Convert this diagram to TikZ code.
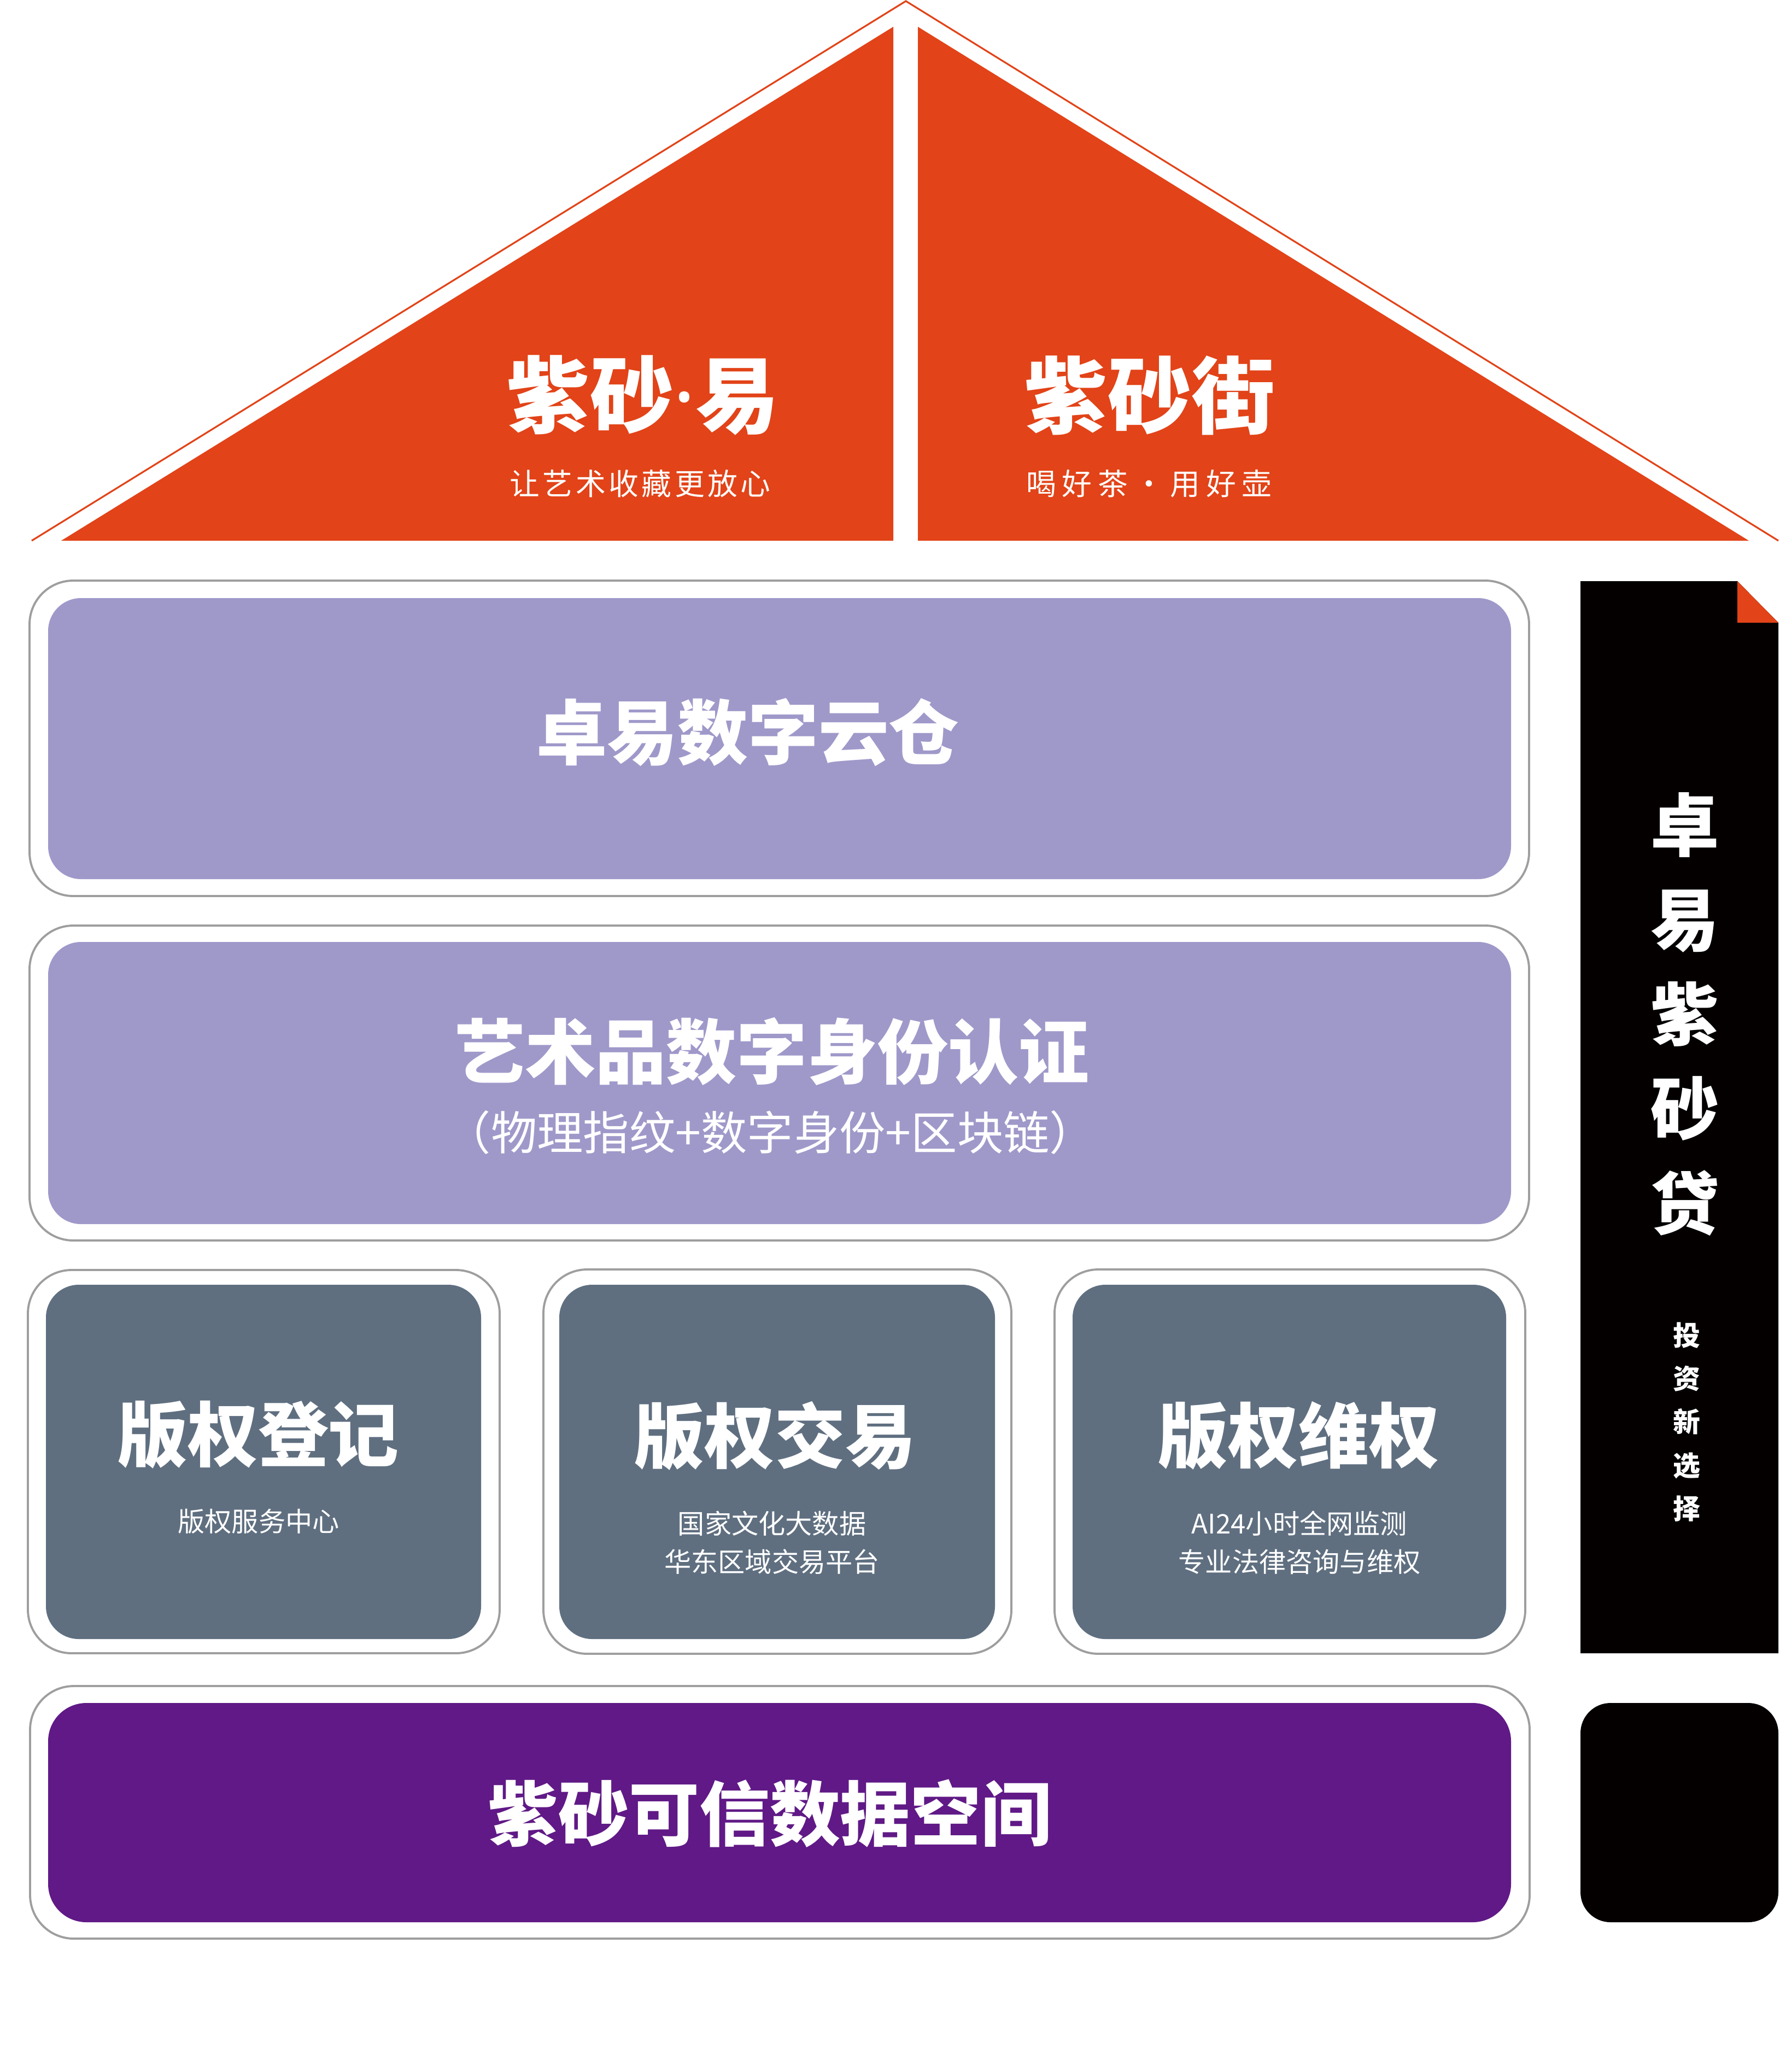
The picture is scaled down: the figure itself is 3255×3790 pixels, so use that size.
\documentclass[tikz,border=0pt]{standalone}
\usepackage{fontspec}
\newfontfamily\cjk{Noto Sans CJK SC}
\newfontfamily\latin{Noto Sans}
\definecolor{roofred}{HTML}{E24318}
\definecolor{lavender}{HTML}{9F99CA}
\definecolor{slate}{HTML}{5F6F80}
\definecolor{grape}{HTML}{601986}
\definecolor{ink}{HTML}{040000}
\definecolor{rim}{HTML}{9E9E9E}
\tikzset{
  rimbox/.style={draw=rim, line width=1.1pt, fill=white, rounded corners=8mm, inner sep=0pt, outer sep=0pt},
  layer/.style={draw=none, rounded corners=6mm, inner sep=0pt, outer sep=0pt},
  title/.style={text=white, inner sep=0pt, font=\cjk\bfseries\fontsize{36.7}{40}\selectfont},
  subtitle/.style={text=white, inner sep=0pt, align=center, font=\cjk\fontsize{14}{19.9}\selectfont},
  rooftitle/.style={text=white, inner sep=0pt, font=\cjk\bfseries\fontsize{43.5}{48}\selectfont},
  roofsub/.style={text=white, inner sep=0pt, font=\cjk\fontsize{15.6}{18}\selectfont},
}

\begin{document}
\begin{tikzpicture}[x=0.1mm, y=-0.1mm]
\useasboundingbox (0,0) rectangle (3255,3790);

% roof
\draw[roofred, line width=0.9pt] (58,989) -- (1657,2) -- (3253,989);
\fill[roofred] (112,989) -- (1634,49) -- (1634,989) -- cycle;
\fill[roofred] (1679,49) -- (3199,989) -- (1679,989) -- cycle;
\node[rooftitle](yi)   at (1176,723) {紫砂{\latin\bfseries ·}易};
\node[roofsub](yisub)  at (1171,885) {\addfontfeatures{LetterSpace=10}让艺术收藏更放心};
\node[rooftitle](jie)  at (2103,723) {紫砂街};
\node[roofsub](jiesub) at (2102,885) {\addfontfeatures{LetterSpace=20}喝好茶・用好壶};

% layers
\node[rimbox, minimum width=274.3mm, minimum height=57.7mm](cloudrim) at (1425.5,1350.5) {};
\node[layer, fill=lavender, minimum width=267.6mm, minimum height=51.4mm](cloud) at (1426,1351) {};
\node[title](cloudtxt) at (1368,1340) {卓易数字云仓};

\node[rimbox, minimum width=274.3mm, minimum height=57.6mm](idrim) at (1425.5,1981) {};
\node[layer, fill=lavender, minimum width=267.6mm, minimum height=51.6mm](id) at (1426,1981) {};
\node[title](idtxt) at (1412,1923) {艺术品数字身份认证};
\node[text=white, inner sep=0pt, font=\cjk\fontsize{24}{28}\selectfont](idsub) at (1409,2071) {（物理指纹+数字身份+区块链）};

% copyright row
\node[rimbox, minimum width=86.3mm, minimum height=70.1mm](regrim) at (482.5,2673.5) {};
\node[layer, fill=slate, minimum width=79.6mm, minimum height=64.8mm](reg) at (482,2674) {};
\node[title](regtxt) at (472,2624) {版权登记};
\node[subtitle](regsub) at (473,2783) {版权服务中心};

\node[rimbox, minimum width=85.6mm, minimum height=70.3mm](traderim) at (1422,2673.5) {};
\node[layer, fill=slate, minimum width=79.7mm, minimum height=64.8mm](trade) at (1421.5,2674) {};
\node[title](tradetxt) at (1417,2626) {版权交易};
\node[subtitle](tradesub) at (1412,2822) {国家文化大数据\\华东区域交易平台};

\node[rimbox, minimum width=86.1mm, minimum height=70.3mm](guardrim) at (2359.5,2673.5) {};
\node[layer, fill=slate, minimum width=79.3mm, minimum height=64.8mm](guard) at (2358.5,2674) {};
\node[title](guardtxt) at (2375,2626) {版权维权};
\node[subtitle](guardsub) at (2377,2822) {AI24小时全网监测\\专业法律咨询与维权};

% base
\node[rimbox, minimum width=274.3mm, minimum height=46.2mm](baserim) at (1426.5,3315) {};
\node[layer, fill=grape, rounded corners=7mm, minimum width=267.6mm, minimum height=40.1mm](base) at (1426,3315.5) {};
\node[title](basetxt) at (1408,3317) {紫砂可信数据空间};

% side bar
\fill[ink] (2891,1063) -- (3178,1063) -- (3253,1139) -- (3253,3024) -- (2891,3024) -- cycle;
\fill[roofred] (3178,1063) -- (3178,1139) -- (3253,1139) -- cycle;
\node[text=white, inner sep=0pt, align=center, font=\cjk\bfseries\fontsize{35.6}{49.2}\selectfont](loan) at (3082,1855) {卓\\易\\紫\\砂\\贷};
\node[text=white, inner sep=0pt, align=center, font=\cjk\bfseries\fontsize{14.2}{22.5}\selectfont](loansub) at (3085,2601) {投\\资\\新\\选\\择};
\node[fill=ink, rounded corners=5.5mm, inner sep=0pt, minimum width=36.2mm, minimum height=40.1mm](pad) at (3072,3315.5) {};

\end{tikzpicture}
\end{document}
